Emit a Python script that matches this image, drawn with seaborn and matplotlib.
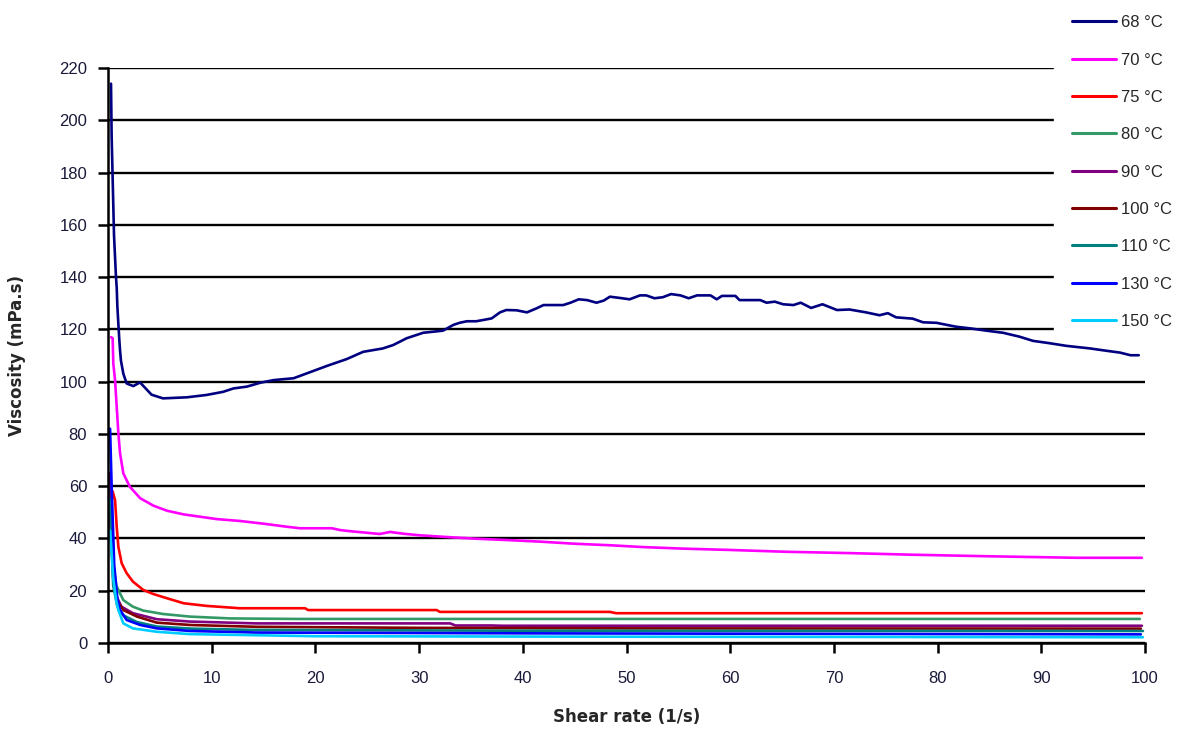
import matplotlib
matplotlib.use("Agg")
import matplotlib.pyplot as plt
import seaborn as sns
import pandas as pd

# ---- data ----
labels = ["68 °C", "70 °C", "75 °C", "80 °C", "90 °C", "100 °C", "110 °C", "130 °C", "150 °C"]
colors = ["#000080", "#FF00FF", "#FF0000", "#339966", "#800080", "#800000", "#008080", "#0000FF", "#00CCFF"]

x_68 = [0.29, 0.35, 0.58, 0.77, 0.84, 0.9, 1.0, 1.09, 1.16, 1.25, 1.48, 1.8, 2.44, 3.09, 4.2, 5.3, 7.6, 9.5,
        11.1, 12.1, 13.4, 14.7, 16.0, 17.9, 19.2, 21.1, 23.0, 24.6, 26.5, 27.5, 28.8, 30.4, 32.3, 33.3, 33.9,
        34.6, 35.5, 36.2, 37.0, 37.8, 38.4, 39.4, 40.4, 41.3, 42.0, 43.9, 44.6, 45.4, 46.2, 47.1, 47.8, 48.4,
        49.4, 50.3, 51.3, 51.9, 52.7, 53.5, 54.3, 55.2, 56.0, 56.8, 58.1, 58.7, 59.2, 60.5, 60.9, 62.9, 63.5,
        64.3, 65.1, 66.1, 66.8, 67.8, 68.9, 70.3, 71.5, 73.1, 74.4, 75.2, 76.0, 77.6, 78.6, 79.9, 80.9, 81.8,
        83.1, 84.7, 86.3, 87.9, 89.2, 90.8, 92.4, 94.7, 96.3, 97.6, 98.6, 99.4]
y_68 = [214, 194, 156, 140, 136, 129, 122, 116, 112, 108, 103, 99.3, 98.3, 99.7, 95.0, 93.6, 94.0, 94.9,
        96.1, 97.4, 98.1, 99.6, 100.6, 101.3, 103.2, 106.0, 108.6, 111.4, 112.7, 114.0, 116.6, 118.7, 119.5,
        121.7, 122.5, 123.1, 123.1, 123.6, 124.2, 126.5, 127.4, 127.3, 126.5, 128.0, 129.3, 129.3, 130.2,
        131.5, 131.2, 130.2, 131.0, 132.5, 132.0, 131.5, 133.0, 133.0, 131.9, 132.3, 133.5, 133.0, 131.9,
        133.0, 133.0, 131.5, 132.8, 132.8, 131.2, 131.2, 130.2, 130.6, 129.6, 129.3, 130.2, 128.2, 129.6,
        127.4, 127.6, 126.5, 125.4, 126.2, 124.6, 124.1, 122.7, 122.5, 121.7, 121.0, 120.4, 119.5, 118.7,
        117.2, 115.6, 114.7, 113.7, 112.7, 111.8, 111.1, 110.1, 110.1]

x_70 = [0.3, 0.45, 0.51, 0.68, 0.84, 1.0, 1.16, 1.48, 2.1, 3.1, 4.4, 5.7, 7.3, 8.9, 10.5, 12.7, 15.3, 17.2,
        18.5, 21.6, 22.4, 23.3, 24.9, 26.2, 27.2, 28.5, 30.1, 33.3, 35.5, 38.4, 41.6, 44.9, 48.4, 51.6, 55.5,
        60.0, 65.4, 71.5, 77.3, 84.7, 93.4, 99.7]
y_70 = [117, 116.6, 107, 100.6, 90.4, 80.2, 72.6, 64.9, 59.8, 55.4, 52.5, 50.6, 49.2, 48.3, 47.4, 46.7, 45.5,
        44.5, 43.9, 43.9, 43.2, 42.8, 42.2, 41.7, 42.5, 41.8, 41.2, 40.4, 39.9, 39.4, 38.8, 38.0, 37.4, 36.7,
        36.1, 35.6, 34.9, 34.4, 33.8, 33.2, 32.6, 32.6]

x_75 = [0.45, 0.68, 0.84, 1.0, 1.32, 1.8, 2.4, 3.4, 4.4, 5.7, 7.3, 9.5, 12.7, 19.0, 19.3, 31.7, 32.0, 48.4,
        49.0, 99.7]
y_75 = [58, 54.7, 44.5, 36.8, 30.5, 26.7, 23.5, 20.3, 18.7, 17.1, 15.2, 14.2, 13.3, 13.3, 12.6, 12.6, 11.9,
        11.9, 11.4, 11.4]

x_80 = [0.2, 0.5, 0.8, 1.16, 1.48, 2.4, 3.4, 5.3, 7.9, 11.8, 18.5, 50.0, 99.5]
y_80 = [62, 30, 22, 19, 16.4, 13.9, 12.4, 11.1, 10.1, 9.4, 9.2, 9.2, 9.2]

x_90 = [0.2, 0.5, 0.8, 1.3, 2.4, 4.7, 7.9, 14.3, 33.0, 33.5, 37.0, 38.0, 99.7]
y_90 = [65, 28, 18, 13.9, 11.4, 9.1, 8.2, 7.5, 7.5, 6.7, 6.7, 6.6, 6.6]

x_100 = [0.2, 0.5, 0.9, 1.48, 2.8, 4.7, 7.9, 14.3, 30.0, 50.0, 99.6]
y_100 = [50, 25, 16, 12.6, 10.1, 7.8, 6.9, 6.2, 5.8, 5.6, 5.5]

x_110 = [0.2, 0.5, 0.9, 1.5, 2.8, 4.7, 8.0, 14.0, 40.0, 99.8]
y_110 = [55, 22, 14, 10.5, 8.0, 6.3, 5.5, 5.0, 4.7, 4.6]

x_130 = [0.2, 0.35, 0.6, 0.9, 1.16, 1.8, 3.1, 4.7, 7.9, 14.3, 40.0, 99.6]
y_130 = [82, 60, 30, 17, 12.6, 8.8, 6.9, 5.6, 4.6, 4.0, 3.7, 3.3]

x_150 = [0.2, 0.5, 0.8, 1.0, 1.48, 2.4, 4.7, 7.9, 20.0, 50.0, 99.8]
y_150 = [43, 25, 16, 12.6, 7.5, 5.6, 4.3, 3.4, 2.6, 2.4, 2.2]

series_x = [x_68, x_70, x_75, x_80, x_90, x_100, x_110, x_130, x_150]
series_y = [y_68, y_70, y_75, y_80, y_90, y_100, y_110, y_130, y_150]

x_ticks = list(range(0, 101, 10))
y_ticks = list(range(0, 221, 20))

rows = []
for lab, xs, ys in zip(labels, series_x, series_y):
    for xv, yv in zip(xs, ys):
        rows.append({"Shear rate": xv, "Viscosity": yv, "T": lab})
df = pd.DataFrame(rows)

# ---- drawing ----
sns.set_style("ticks")
plt.rcParams["font.family"] = ["Liberation Sans", "DejaVu Sans"]

fig = plt.figure(figsize=(11.9, 7.29), dpi=100)
ax = fig.add_axes([108 / 1190, 1 - 643 / 729, (1145 - 108) / 1190, (643 - 68) / 729])

sns.lineplot(data=df, x="Shear rate", y="Viscosity", hue="T", hue_order=labels,
             palette=colors, estimator=None, sort=False, linewidth=1.9, ax=ax, legend=True)

ax.set_xlim(0, 100)
ax.set_ylim(0, 220)
ax.set_xticks(x_ticks)
ax.set_yticks(y_ticks)
ax.set_axisbelow(True)
ax.yaxis.grid(True, color="black", linewidth=1.7)
ax.xaxis.grid(False)
for s in ["top", "right"]:
    ax.spines[s].set_visible(False)
for s in ["left", "bottom"]:
    ax.spines[s].set_color("black")
    ax.spines[s].set_linewidth(1.8)
ax.tick_params(axis="both", direction="out", length=7, width=1.8, color="black",
               labelsize=12, labelcolor="#1a1a3a", pad=8)
ax.tick_params(axis="x", pad=13)

ax.set_xlabel("Shear rate (1/s)", fontsize=12, fontweight="bold", family="DejaVu Sans", labelpad=16)
ax.set_ylabel("Viscosity (mPa.s)", fontsize=12, fontweight="bold", family="DejaVu Sans", labelpad=24)

handles, labs = ax.get_legend_handles_labels()
leg = ax.legend(handles, labs, loc="upper left", bbox_to_anchor=(1054 / 1190, 1 + 3 / 729),
                bbox_transform=fig.transFigure, frameon=True, facecolor="white", edgecolor="white",
                framealpha=1, fancybox=False, fontsize=12, handlelength=2.6, handletextpad=0.3,
                labelspacing=1.34, borderpad=1.1, borderaxespad=0)
# legend background hides the grid lines but stays beneath the data curves
leg.set_zorder(1.9)
for h in leg.get_lines():
    h.set_linewidth(2.2)

fig.savefig("out.png", dpi=100)
